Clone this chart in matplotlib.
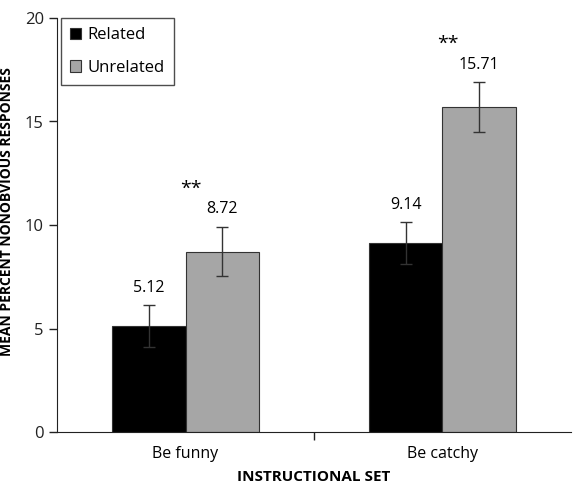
import matplotlib.pyplot as plt
import numpy as np

plt.rcParams['font.family'] = ['Open Sans', 'DejaVu Sans']

categorias = ['Be funny', 'Be catchy']
relacionado = [5.12, 9.14]
no_relacionado = [8.72, 15.71]
err_relacionado = [1.0, 1.0]
err_no_relacionado = [1.2, 1.2]
etiquetas_y = [0, 5, 10, 15, 20]

fig = plt.figure(figsize=(5.82, 4.86), dpi=100)
ax = fig.add_axes([0.098, 0.111, 0.883, 0.852])

x = np.arange(len(categorias))
ancho = 0.286

ax.bar(x - ancho / 2, relacionado, ancho, color='black', edgecolor='#333333',
       linewidth=0.8, label='Related',
       yerr=err_relacionado, error_kw=dict(ecolor='#333333', capsize=4, elinewidth=1, capthick=1))
ax.bar(x + ancho / 2, no_relacionado, ancho, color='#a6a6a6', edgecolor='#333333',
       linewidth=0.8, label='Unrelated',
       yerr=err_no_relacionado, error_kw=dict(ecolor='#333333', capsize=4, elinewidth=1, capthick=1))

for i in range(len(categorias)):
    ax.text(x[i] - ancho / 2, relacionado[i] + err_relacionado[i] + 0.45, f'{relacionado[i]:.2f}',
            ha='center', va='bottom', fontsize=11.5)
    ax.text(x[i] + ancho / 2, no_relacionado[i] + err_no_relacionado[i] + 0.45, f'{no_relacionado[i]:.2f}',
            ha='center', va='bottom', fontsize=11.5)
    ax.text(x[i] + 0.02, no_relacionado[i] + err_no_relacionado[i] + 1.4, '**',
            ha='center', va='bottom', fontsize=14)

ax.set_xlim(-0.5, 1.5)
ax.set_ylim(0, 20)
ax.set_yticks(etiquetas_y)
ax.tick_params(axis='y', labelsize=12, direction='out', length=6, width=1, colors='#222222')
ax.set_xticks([0.5])
ax.set_xticklabels([''])
ax.tick_params(axis='x', direction='out', length=6, width=1, colors='#222222')
for i, c in enumerate(categorias):
    ax.text(x[i], -0.65, c, ha='center', va='top', fontsize=11.5)
fig.text(0.5 * (0.098 + 0.981), 0.018, 'INSTRUCTIONAL SET', ha='center', va='center',
         fontsize=11, fontweight='bold')

ax.spines['top'].set_visible(False)
ax.spines['right'].set_visible(False)
ax.spines['left'].set_color('#222222')
ax.spines['bottom'].set_color('#222222')

leg = ax.legend(loc='upper left', bbox_to_anchor=(0.007, 1.0), fontsize=12, frameon=True,
                fancybox=False, edgecolor='#222222', handlelength=0.65, handleheight=0.65,
                handletextpad=0.4, borderpad=0.55, labelspacing=1.0, borderaxespad=0)
leg.get_frame().set_linewidth(1)

fig.text(14 / 582, 0.565, 'MEAN PERCENT NONOBVIOUS RESPONSES', rotation=90, ha='right', va='center',
         fontsize=10, fontweight='bold')

plt.savefig('out.png', dpi=100)
plt.close()
